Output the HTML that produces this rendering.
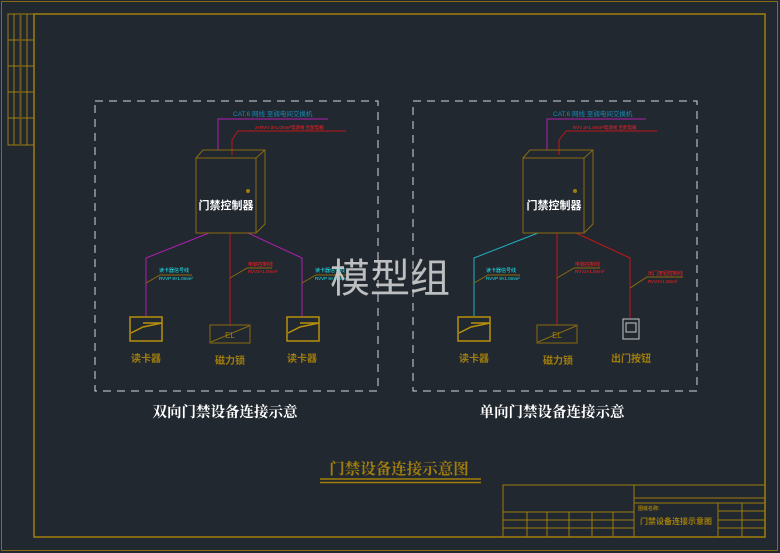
<!DOCTYPE html>
<html><head><meta charset="utf-8"><style>
html,body{margin:0;padding:0;background:#212830;width:780px;height:553px;overflow:hidden}
svg{display:block}
text{font-family:"Liberation Sans","Noto Sans CJK SC",sans-serif}
.sf{font-family:"Liberation Serif","Noto Serif CJK SC",serif}
</style></head><body>
<svg width="780" height="553" viewBox="0 0 780 553" xmlns="http://www.w3.org/2000/svg">
<rect width="780" height="553" fill="#212830"/>
<g fill="none" stroke="#8a6a10">
<rect x="1.5" y="1.5" width="776" height="549" stroke-width="1"/>
</g>
<g fill="none" stroke="#a07d0c" stroke-width="1">
<rect x="34" y="14" width="731" height="523" stroke-width="1.5"/>
<rect x="8" y="14" width="26" height="131"/>
<line x1="8" y1="40" x2="34" y2="40"/><line x1="8" y1="66" x2="34" y2="66"/>
<line x1="8" y1="92" x2="34" y2="92"/><line x1="8" y1="118" x2="34" y2="118"/>
<line x1="14" y1="14" x2="14" y2="145"/><line x1="20.5" y1="14" x2="20.5" y2="145" stroke="#6a5a20" stroke-width="2"/>
<line x1="27" y1="14" x2="27" y2="145"/>
<rect x="503" y="485" width="262" height="52"/>
<line x1="634" y1="485" x2="634" y2="537"/>
<line x1="634" y1="498" x2="765" y2="498"/><line x1="634" y1="503" x2="765" y2="503"/>
<line x1="503" y1="512" x2="634" y2="512"/><line x1="503" y1="520" x2="634" y2="520"/><line x1="503" y1="528" x2="634" y2="528"/>
<line x1="527" y1="512" x2="527" y2="537"/><line x1="547" y1="512" x2="547" y2="537"/><line x1="569" y1="512" x2="569" y2="537"/>
<line x1="592" y1="512" x2="592" y2="537"/><line x1="613" y1="512" x2="613" y2="537"/>
<line x1="718" y1="503" x2="718" y2="537"/><line x1="742" y1="503" x2="742" y2="537"/>
<line x1="718" y1="511" x2="765" y2="511"/><line x1="718" y1="520" x2="765" y2="520"/><line x1="718" y1="528" x2="765" y2="528"/>
</g>
<text x="638" y="510" font-size="5" fill="#a07d0c" font-weight="bold">图纸名称:</text>
<text x="676" y="524" font-size="8" fill="#a07d0c" text-anchor="middle" font-weight="bold">门禁设备连接示意图</text>

<g fill="none" stroke="#d8d8d8" stroke-width="1" stroke-dasharray="8,6">
<rect x="95" y="101" width="283" height="290"/>
<rect x="413" y="101" width="284" height="290"/>
</g>

<!-- LEFT -->
<g fill="none" stroke-width="1">
<polyline points="218,150 218,119 328,119" stroke="#b020b0"/>
<polyline points="232,155 232,140 238,131 346,131" stroke="#c01818"/>
<polyline points="209,233 146,258 146,316" stroke="#b020b0"/>
<polyline points="248,233 302,258 302,316" stroke="#b020b0"/>
<line x1="230" y1="233" x2="230" y2="325" stroke="#c01818"/>
<polyline points="146,283 160,275 192,275" stroke="#8a6a10"/>
<polyline points="230,278 247,268 272,268" stroke="#8a6a10"/>
<polyline points="302,283 316,275 346,275" stroke="#8a6a10"/>
<g stroke="#8a6a10">
<rect x="196" y="158" width="60" height="75"/>
<polyline points="196,158 203,150 265,150 265,224 256,233"/>
<line x1="256" y1="158" x2="265" y2="150"/>
</g>
<circle cx="248" cy="191" r="2" fill="#a07d0c" stroke="none"/>
<g stroke="#b8900c" stroke-width="1.5">
<rect x="130" y="317" width="32" height="24"/>
<polyline points="131,333 143,327 162,323"/>
<line x1="143" y1="323" x2="162" y2="323"/>
<rect x="287" y="317" width="32" height="24"/>
<polyline points="288,333 300,327 319,323"/>
<line x1="300" y1="323" x2="319" y2="323"/>
</g>
<g stroke="#8a6a10">
<rect x="210" y="325" width="40" height="18"/>
<line x1="211" y1="342" x2="249" y2="326"/>
</g>
</g>
<text x="226" y="209" font-size="11" fill="#ffffff" font-weight="bold" text-anchor="middle">门禁控制器</text>
<text x="233" y="116" font-size="6.5" fill="#1a8ab8">CAT.6 网线 至弱电间交换机</text>
<text x="255" y="129" font-size="4.5" fill="#ff2020">2×RVV 3×1.0mm²电源线 至配电箱</text>
<text x="159" y="272" font-size="5" fill="#20e8f0">读卡器信号线</text>
<text x="159" y="280" font-size="4.5" fill="#20e8f0">RVVP 8×1.0mm²</text>
<text x="248" y="266" font-size="5" fill="#ff2020">电锁控制线</text>
<text x="248" y="273" font-size="4.5" fill="#ff2020">RVV2×1.0mm²</text>
<text x="315" y="272" font-size="5" fill="#20e8f0">读卡器信号线</text>
<text x="315" y="280" font-size="4.5" fill="#20e8f0">RVVP 8×1.0mm²</text>
<text x="230" y="338" font-size="8" fill="#a07d0c" text-anchor="middle">EL</text>
<text x="146" y="362" font-size="10" fill="#a07d0c" text-anchor="middle" font-weight="bold">读卡器</text>
<text x="230" y="364" font-size="10" fill="#a07d0c" text-anchor="middle" font-weight="bold">磁力锁</text>
<text x="302" y="362" font-size="10" fill="#a07d0c" text-anchor="middle" font-weight="bold">读卡器</text>

<!-- RIGHT -->
<g fill="none" stroke-width="1">
<polyline points="547,150 547,119 646,119" stroke="#b020b0"/>
<polyline points="559,155 559,140 566,131 657,131" stroke="#c01818"/>
<polyline points="538,233 474,258 474,316" stroke="#20b0c0"/>
<line x1="557" y1="233" x2="557" y2="325" stroke="#c01818"/>
<polyline points="576,233 630,258 630,318" stroke="#c01818"/>
<polyline points="474,283 488,275 520,275" stroke="#8a6a10"/>
<polyline points="557,278 574,268 600,268" stroke="#8a6a10"/>
<polyline points="630,288 647,277 683,277" stroke="#8a6a10"/>
<g stroke="#8a6a10">
<rect x="523" y="158" width="61" height="75"/>
<polyline points="523,158 530,150 593,150 593,224 584,233"/>
<line x1="584" y1="158" x2="593" y2="150"/>
</g>
<circle cx="575" cy="191" r="2" fill="#a07d0c" stroke="none"/>
<g stroke="#b8900c" stroke-width="1.5">
<rect x="458" y="317" width="32" height="24"/>
<polyline points="459,333 471,327 490,323"/>
<line x1="471" y1="323" x2="490" y2="323"/>
</g>
<g stroke="#8a6a10">
<rect x="537" y="325" width="40" height="18"/>
<line x1="538" y1="342" x2="576" y2="326"/>
</g>
<g stroke="#c8c8c8">
<rect x="623" y="319" width="16" height="20"/>
<rect x="626" y="323" width="10" height="9"/>
</g>
</g>
<text x="554" y="209" font-size="11" fill="#ffffff" font-weight="bold" text-anchor="middle">门禁控制器</text>
<text x="553" y="116" font-size="6.5" fill="#1a8ab8">CAT.6 网线 至弱电间交换机</text>
<text x="573" y="129" font-size="4.5" fill="#ff2020">RVV 3×1.0mm²电源线 至配电箱</text>
<text x="486" y="272" font-size="5" fill="#20e8f0">读卡器信号线</text>
<text x="486" y="280" font-size="4.5" fill="#20e8f0">RVVP 8×1.0mm²</text>
<text x="575" y="266" font-size="5" fill="#ff2020">电锁控制线</text>
<text x="575" y="273" font-size="4.5" fill="#ff2020">RVV2×1.0mm²</text>
<text x="648" y="275" font-size="5" fill="#ff2020">出门按钮控制线</text>
<text x="648" y="283" font-size="4.5" fill="#ff2020">RVV2×1.0mm²</text>
<text x="557" y="338" font-size="8" fill="#a07d0c" text-anchor="middle">EL</text>
<text x="474" y="362" font-size="10" fill="#a07d0c" text-anchor="middle" font-weight="bold">读卡器</text>
<text x="558" y="364" font-size="10" fill="#a07d0c" text-anchor="middle" font-weight="bold">磁力锁</text>
<text x="631" y="362" font-size="10" fill="#a07d0c" text-anchor="middle" font-weight="bold">出门按钮</text>

<text class="sf" x="225" y="417" font-size="14.5" fill="#ffffff" text-anchor="middle" font-weight="bold">双向门禁设备连接示意</text>
<text class="sf" x="552" y="417" font-size="14.5" fill="#ffffff" text-anchor="middle" font-weight="bold">单向门禁设备连接示意</text>

<text class="sf" x="399" y="474" font-size="15.5" fill="#a07d0c" text-anchor="middle" font-weight="bold">门禁设备连接示意图</text>
<line x1="320" y1="479" x2="481" y2="479" stroke="#a07d0c" stroke-width="1.5"/>
<line x1="320" y1="482.5" x2="481" y2="482.5" stroke="#a07d0c" stroke-width="1.5"/>

<text x="390" y="292" font-size="40" fill="#d8d8d8" fill-opacity="0.85" text-anchor="middle">模型组</text>
</svg>
</body></html>
